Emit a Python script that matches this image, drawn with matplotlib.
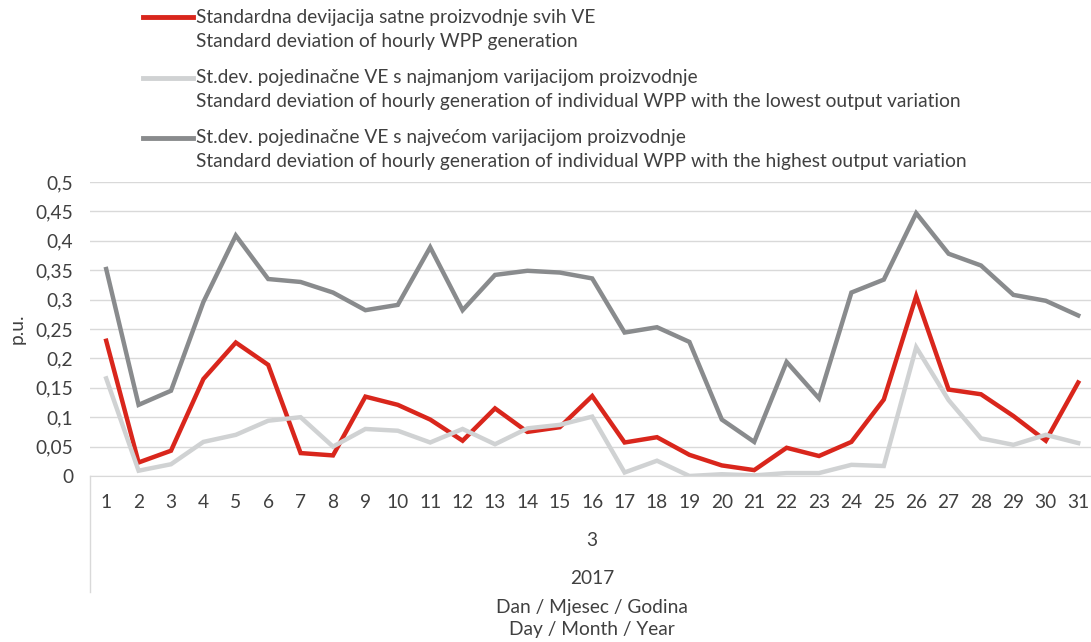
import matplotlib.pyplot as plt
from matplotlib.lines import Line2D
from matplotlib.ticker import FuncFormatter

plt.rcParams['font.family'] = ['Lato', 'DejaVu Sans']

# data (March 2017, daily values, p.u.)
days = list(range(1, 32))
std_all = [0.230, 0.023, 0.043, 0.165, 0.227, 0.189, 0.039, 0.035, 0.135, 0.121,
           0.096, 0.060, 0.115, 0.075, 0.083, 0.136, 0.057, 0.066, 0.036, 0.018,
           0.010, 0.048, 0.034, 0.058, 0.130, 0.306, 0.147, 0.139, 0.102, 0.060, 0.159]
std_lowest = [0.166, 0.009, 0.020, 0.058, 0.070, 0.094, 0.100, 0.050, 0.080, 0.077,
              0.057, 0.080, 0.054, 0.081, 0.087, 0.101, 0.006, 0.026, 0.000, 0.003,
              0.001, 0.005, 0.005, 0.019, 0.017, 0.219, 0.129, 0.064, 0.053, 0.070, 0.056]
std_highest = [0.352, 0.121, 0.145, 0.296, 0.409, 0.335, 0.330, 0.312, 0.282, 0.291,
               0.389, 0.282, 0.342, 0.349, 0.346, 0.336, 0.244, 0.253, 0.228, 0.096,
               0.058, 0.194, 0.132, 0.312, 0.334, 0.447, 0.378, 0.358, 0.308, 0.298, 0.273]

labels = [
    ("Standardna devijacija satne proizvodnje svih VE",
     "Standard deviation of hourly WPP generation"),
    ("St.dev. pojedinačne VE s najmanjom varijacijom proizvodnje",
     "Standard deviation of hourly generation of individual WPP with the lowest output variation"),
    ("St.dev. pojedinačne VE s najvećom varijacijom proizvodnje",
     "Standard deviation of hourly generation of individual WPP with the highest output variation"),
]
colors = ['#d9261c', '#d0d2d3', '#898b8d']
y_ticks = [0, 0.05, 0.1, 0.15, 0.2, 0.25, 0.3, 0.35, 0.4, 0.45, 0.5]

W, H = 1091, 642
fig = plt.figure(figsize=(W / 100, H / 100), dpi=100)
ax = fig.add_axes([90 / W, 1 - 476 / H, 1004.4 / W, 294 / H])

# pick a font size so the longest legend line is as wide as in the reference
probe = fig.text(0, 0, labels[2][1], fontsize=13)
fig.canvas.draw()
w = probe.get_window_extent().width
probe.remove()
fs = 13 * 766 / w

for series, c in zip([std_all, std_lowest, std_highest], colors):
    ax.plot(days, series, color=c, lw=3.2, solid_joinstyle='miter', zorder=3)

ax.set_xlim(0.5, 31.5)
ax.set_ylim(0, 0.5)
ax.set_yticks(y_ticks)
ax.yaxis.set_major_formatter(FuncFormatter(lambda v, p: ('%g' % round(v, 2)).replace('.', ',')))
ax.set_xticks(days)
ax.set_xticklabels([str(d) for d in days])
ax.grid(axis='y', color='#d9d9d9', lw=1)
ax.set_axisbelow(True)
for s in ['top', 'right', 'left']:
    ax.spines[s].set_visible(False)
ax.spines['bottom'].set_color('#d9d9d9')
ax.tick_params(length=0, labelsize=fs, colors='#404040')
ax.tick_params(axis='x', pad=13)
ax.tick_params(axis='y', pad=12)
ax.set_ylabel('p.u.', fontsize=fs, color='#404040', labelpad=7)

# multi-level category axis
ax.add_line(Line2D([0, 0], [0, -116 / 294], transform=ax.transAxes, color='#d9d9d9', lw=1, clip_on=False))
ax.text(0.5, -65 / 294, '3', transform=ax.transAxes, ha='center', va='center', fontsize=fs, color='#404040')
ax.text(0.5, -102 / 294, '2017', transform=ax.transAxes, ha='center', va='center', fontsize=fs, color='#404040')
ax.text(0.5, -131 / 294, 'Dan / Mjesec / Godina', transform=ax.transAxes, ha='center', va='center', fontsize=fs, color='#404040')
ax.text(0.5, -153 / 294, 'Day / Month / Year', transform=ax.transAxes, ha='center', va='center', fontsize=fs, color='#404040')

# legend at top
rows = [17, 78, 138]
for (l1, l2), c, y in zip(labels, colors, rows):
    fig.add_artist(Line2D([143 / W, 193 / W], [1 - y / H, 1 - y / H], color=c, lw=3.5))
    fig.text(196 / W, 1 - y / H, l1, ha='left', va='center', fontsize=fs, color='#404040')
    fig.text(196 / W, 1 - (y + 24) / H, l2, ha='left', va='center', fontsize=fs, color='#404040')

fig.savefig('out.png', dpi=100)
